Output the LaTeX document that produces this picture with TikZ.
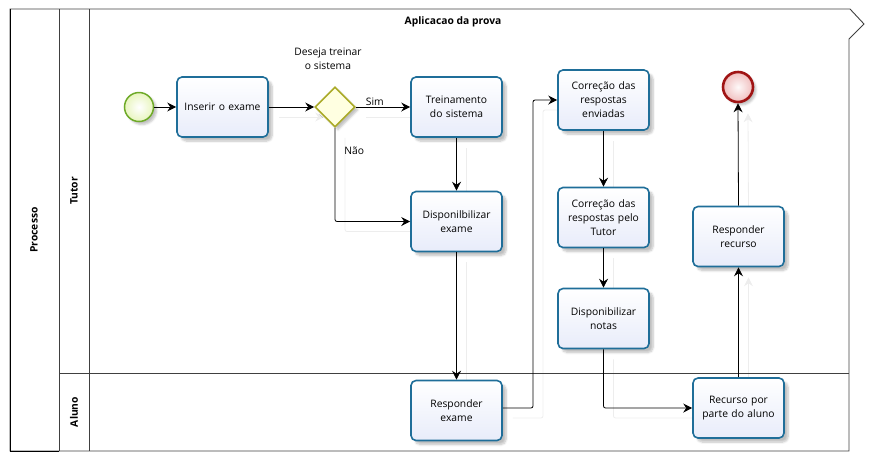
\documentclass[tikz,border=0pt]{standalone}
\usepackage{fontspec}
\setmainfont{Open Sans}
\usetikzlibrary{arrows.meta,shapes.geometric,shadows.blur,calc,backgrounds}
\definecolor{taskline}{RGB}{31,110,153}
\definecolor{taskfill}{RGB}{232,236,250}
\definecolor{startline}{RGB}{110,170,40}
\definecolor{startfill}{RGB}{232,245,190}
\definecolor{endline}{RGB}{160,20,20}
\definecolor{endfill}{RGB}{240,190,190}
\definecolor{gwline}{RGB}{170,170,40}
\definecolor{gwfill}{RGB}{255,255,225}
\definecolor{poolline}{RGB}{64,64,64}
\begin{document}
\begin{tikzpicture}[x=1pt,y=-1pt,
  font=\fontsize{10.3}{14}\selectfont,
  task/.style={draw=taskline, line width=1.6pt, rounded corners=5pt,
    top color=white, bottom color=taskfill, minimum width=91pt, minimum height=60pt,
    text width=88pt, align=center, inner sep=1pt,
    blur shadow={shadow xshift=4pt, shadow yshift=-4pt, shadow opacity=25, shadow blur steps=6}},
  startev/.style={circle, draw=startline, line width=1.5pt, inner color=white, outer color=startfill,
    minimum size=29pt, inner sep=0pt,
    blur shadow={shadow xshift=3pt, shadow yshift=-3pt, shadow opacity=25}},
  endev/.style={circle, draw=endline, line width=2.6pt, inner color=white!90!endfill, outer color=endfill,
    minimum size=30pt, inner sep=0pt,
    blur shadow={shadow xshift=3pt, shadow yshift=-3pt, shadow opacity=25}},
  gateway/.style={diamond, aspect=1, draw=gwline, line width=1.6pt, fill=gwfill,
    minimum width=40pt, minimum height=40pt, inner sep=0pt,
    blur shadow={shadow xshift=3pt, shadow yshift=-3pt, shadow opacity=25}},
  flow/.style={draw=black, line width=0.8pt, rounded corners=2pt,
    -{Stealth[length=9pt,width=9pt,inset=3pt]}},
  ghost/.style={draw=black!7, line width=0.8pt, rounded corners=2pt,
    -{Stealth[length=9pt,width=9pt,inset=3pt]}, transform canvas={shift={(10,10)}}},
  lanetitle/.style={font=\fontsize{10.3}{12}\selectfont\bfseries, rotate=90},
  lbl/.style={inner sep=1pt}
]
\useasboundingbox (0,0) rectangle (877,456);
% pool and lanes
\draw[poolline, line width=0.9pt] (10,9) -- (850,9) -- (864,24) -- (849,39) -- (849,451) -- (10,451) -- cycle;
\draw[black, line width=1pt] (10,9) -- (10,451) -- (59,451);
\draw[poolline, line width=0.9pt] (59,9) -- (59,451);
\draw[poolline, line width=0.9pt] (89,9) -- (89,451);
\draw[poolline, line width=0.9pt] (59,373) -- (849,373);
\node[lanetitle] (processo) at (34,230) {Processo};
\node[lanetitle] (tutor) at (74,191) {Tutor};
\node[lanetitle] (aluno) at (74,412) {Aluno};
\node[font=\fontsize{10.3}{12}\selectfont\bfseries] (title) at (453,22) {Aplicacao da prova};

% nodes
\node[startev] (start) at (139,107) {};
\node[task] (inserir) at (222.5,107) {Inserir o exame};
\node[gateway] (gw) at (335,107) {};
\node[align=center] (gwlbl) at (328,59) {Deseja treinar\\o sistema};
\node[task] (trein) at (456.5,107) {Treinamento\\do sistema};
\node[task] (disp) at (456.5,221.5) {Disponilbilizar\\exame};
\node[task] (resp) at (456.5,410.5) {Responder\\exame};
\node[task] (corr1) at (603.5,100) {Correção das\\respostas\\enviadas};
\node[task] (corr2) at (603.5,217.5) {Correção das\\respostas pelo\\Tutor};
\node[task] (notas) at (603.5,318.5) {Disponibilizar\\notas};
\node[task] (recurso) at (738.5,408) {Recurso por\\parte do aluno};
\node[task] (rresp) at (738.5,236.5) {Responder\\recurso};
\node[endev] (fim) at (738,87) {};

\coordinate (j1) at (533,408);

% faint connector shadows, behind everything
\begin{pgfonlayer}{background}
\draw[ghost] (inserir) -- (gw);
\draw[ghost] (gw) -- (trein);
\draw[ghost] (gw.south) |- (disp.west);
\draw[ghost] (trein) -- (disp);
\draw[ghost] (disp) -- (resp);
\draw[ghost] (resp.east |- j1) -- (j1) |- (corr1.west);
\draw[ghost] (corr1) -- (corr2);
\draw[ghost] (corr2) -- (notas);
\draw[ghost] (notas.south) |- (recurso.west);
\draw[ghost] (recurso.north -| rresp.south) -- (rresp.south);
\draw[ghost] (rresp.north) -- (fim.south);
\end{pgfonlayer}

% connectors
\draw[flow] (start) -- (inserir);
\draw[flow] (inserir) -- (gw);
\draw[flow] (gw) -- node[lbl, above, pos=0.35] (sim) {Sim} (trein);
\draw[flow] (gw.south) |- node[lbl, pos=0.12, right=8pt] (nao) {Não} (disp.west);
\draw[flow] (trein) -- (disp);
\draw[flow] (disp) -- (resp);
\draw[flow] (resp.east |- j1) -- (j1) |- (corr1.west);
\draw[flow] (corr1) -- (corr2);
\draw[flow] (corr2) -- (notas);
\draw[flow] (notas.south) |- (recurso.west);
\draw[flow] (recurso.north -| rresp.south) -- (rresp.south);
\draw[flow] (rresp.north) -- (fim.south);
\end{tikzpicture}
\end{document}
